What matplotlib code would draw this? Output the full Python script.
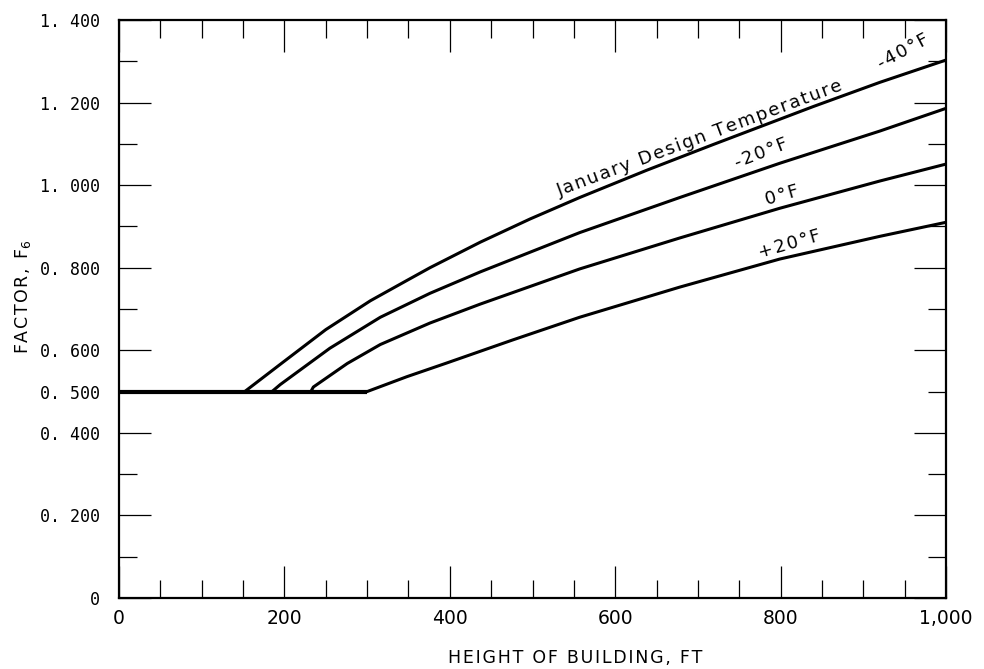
import matplotlib
matplotlib.use("Agg")
import matplotlib.pyplot as plt
import numpy as np

# ---- data ----
flat_x = [0, 300]
flat_y = [0.5, 0.5]

m40_x = [152, 195, 250, 304, 348, 376, 437, 497, 557, 638, 718, 839, 920, 1000]
m40_y = [0.500, 0.566, 0.650, 0.720, 0.769, 0.800, 0.862, 0.918, 0.970, 1.036, 1.098, 1.190, 1.249, 1.303]

m20_x = [185, 195, 255, 316, 376, 437, 557, 678, 799, 920, 1000]
m20_y = [0.500, 0.517, 0.605, 0.680, 0.738, 0.790, 0.885, 0.970, 1.053, 1.131, 1.186]

z0_x = [232, 235, 276, 316, 376, 437, 557, 678, 799, 920, 1000]
z0_y = [0.500, 0.511, 0.568, 0.614, 0.666, 0.712, 0.797, 0.872, 0.944, 1.010, 1.051]

p20_x = [300, 348, 396, 476, 557, 678, 799, 920, 1000]
p20_y = [0.500, 0.536, 0.569, 0.625, 0.680, 0.753, 0.821, 0.876, 0.910]

ytick_vals = [0, 0.2, 0.4, 0.5, 0.6, 0.8, 1.0, 1.2, 1.4]
ytick_labels = ["0", "0. 200", "0. 400", "0. 500", "0. 600", "0. 800",
                "1. 000", "1. 200", "1. 400"]
xtick_vals = [0, 200, 400, 600, 800, 1000]
xtick_labels = ["0", "200", "400", "600", "800", "1,000"]

HS = "\u200a"  # hair space for letter spacing


def spaced(s):
    return HS.join(s)


curve_labels = [
    ("January Design Temperature", 703, 1.114, 20.5),
    ("-40°F", 948, 1.324, 28),
    ("-20°F", 776, 1.077, 21),
    ("0°F", 802, 0.975, 16),
    ("+20°F", 811, 0.857, 16),
]

# ---- figure ----
fig = plt.figure(figsize=(9.84, 6.69), dpi=100)
ax = fig.add_axes([119/984, (669-598)/669, 827/984, 578/669])
ax.set_xlim(0, 1000)
ax.set_ylim(0, 1.4)

ax.plot(flat_x, flat_y, color="black", lw=3.0, solid_capstyle="butt")
for xs, ys in [(m40_x, m40_y), (m20_x, m20_y), (z0_x, z0_y), (p20_x, p20_y)]:
    ax.plot(xs, ys, color="black", lw=2.2, solid_joinstyle="round")

for s in ax.spines.values():
    s.set_linewidth(1.6)
    s.set_color("black")

# y ticks
ax.set_yticks(ytick_vals)
ax.set_yticklabels(ytick_labels, family="DejaVu Sans Mono", fontsize=12)
ax.set_yticks(np.arange(0.1, 1.4, 0.2), minor=True)
# x ticks
ax.set_xticks(xtick_vals)
ax.set_xticklabels(xtick_labels, family="DejaVu Sans", fontsize=13.5)
ax.set_xticks([v for v in range(50, 1000, 50) if v % 200 != 0], minor=True)

ax.tick_params(which="major", direction="in", length=23, width=0.9,
               top=True, right=True)
ax.tick_params(which="minor", direction="in", length=13, width=0.9,
               top=True, right=True)
ax.tick_params(axis="x", which="major", pad=8)
ax.tick_params(axis="y", which="major", pad=14)
for t in ax.yaxis.get_major_ticks():
    if abs(t.get_loc() - 0.5) < 1e-6:
        t.tick1line.set_markersize(13)
        t.tick2line.set_markersize(13)

ax.set_xlabel(spaced("HEIGHT OF BUILDING, FT"), family="DejaVu Sans", fontsize=12.5)
ax.xaxis.set_label_coords(0.552, -0.088)
ax.set_ylabel(spaced("FACTOR, F") + "$_6$", family="DejaVu Sans", fontsize=12.5)
ax.yaxis.set_label_coords(-0.104, 0.522)

for txt, x, y, rot in curve_labels:
    ax.text(x, y, spaced(txt), rotation=rot, rotation_mode="anchor",
            ha="center", va="center", fontsize=13, family="DejaVu Sans")

fig.savefig("out.png", dpi=100)
